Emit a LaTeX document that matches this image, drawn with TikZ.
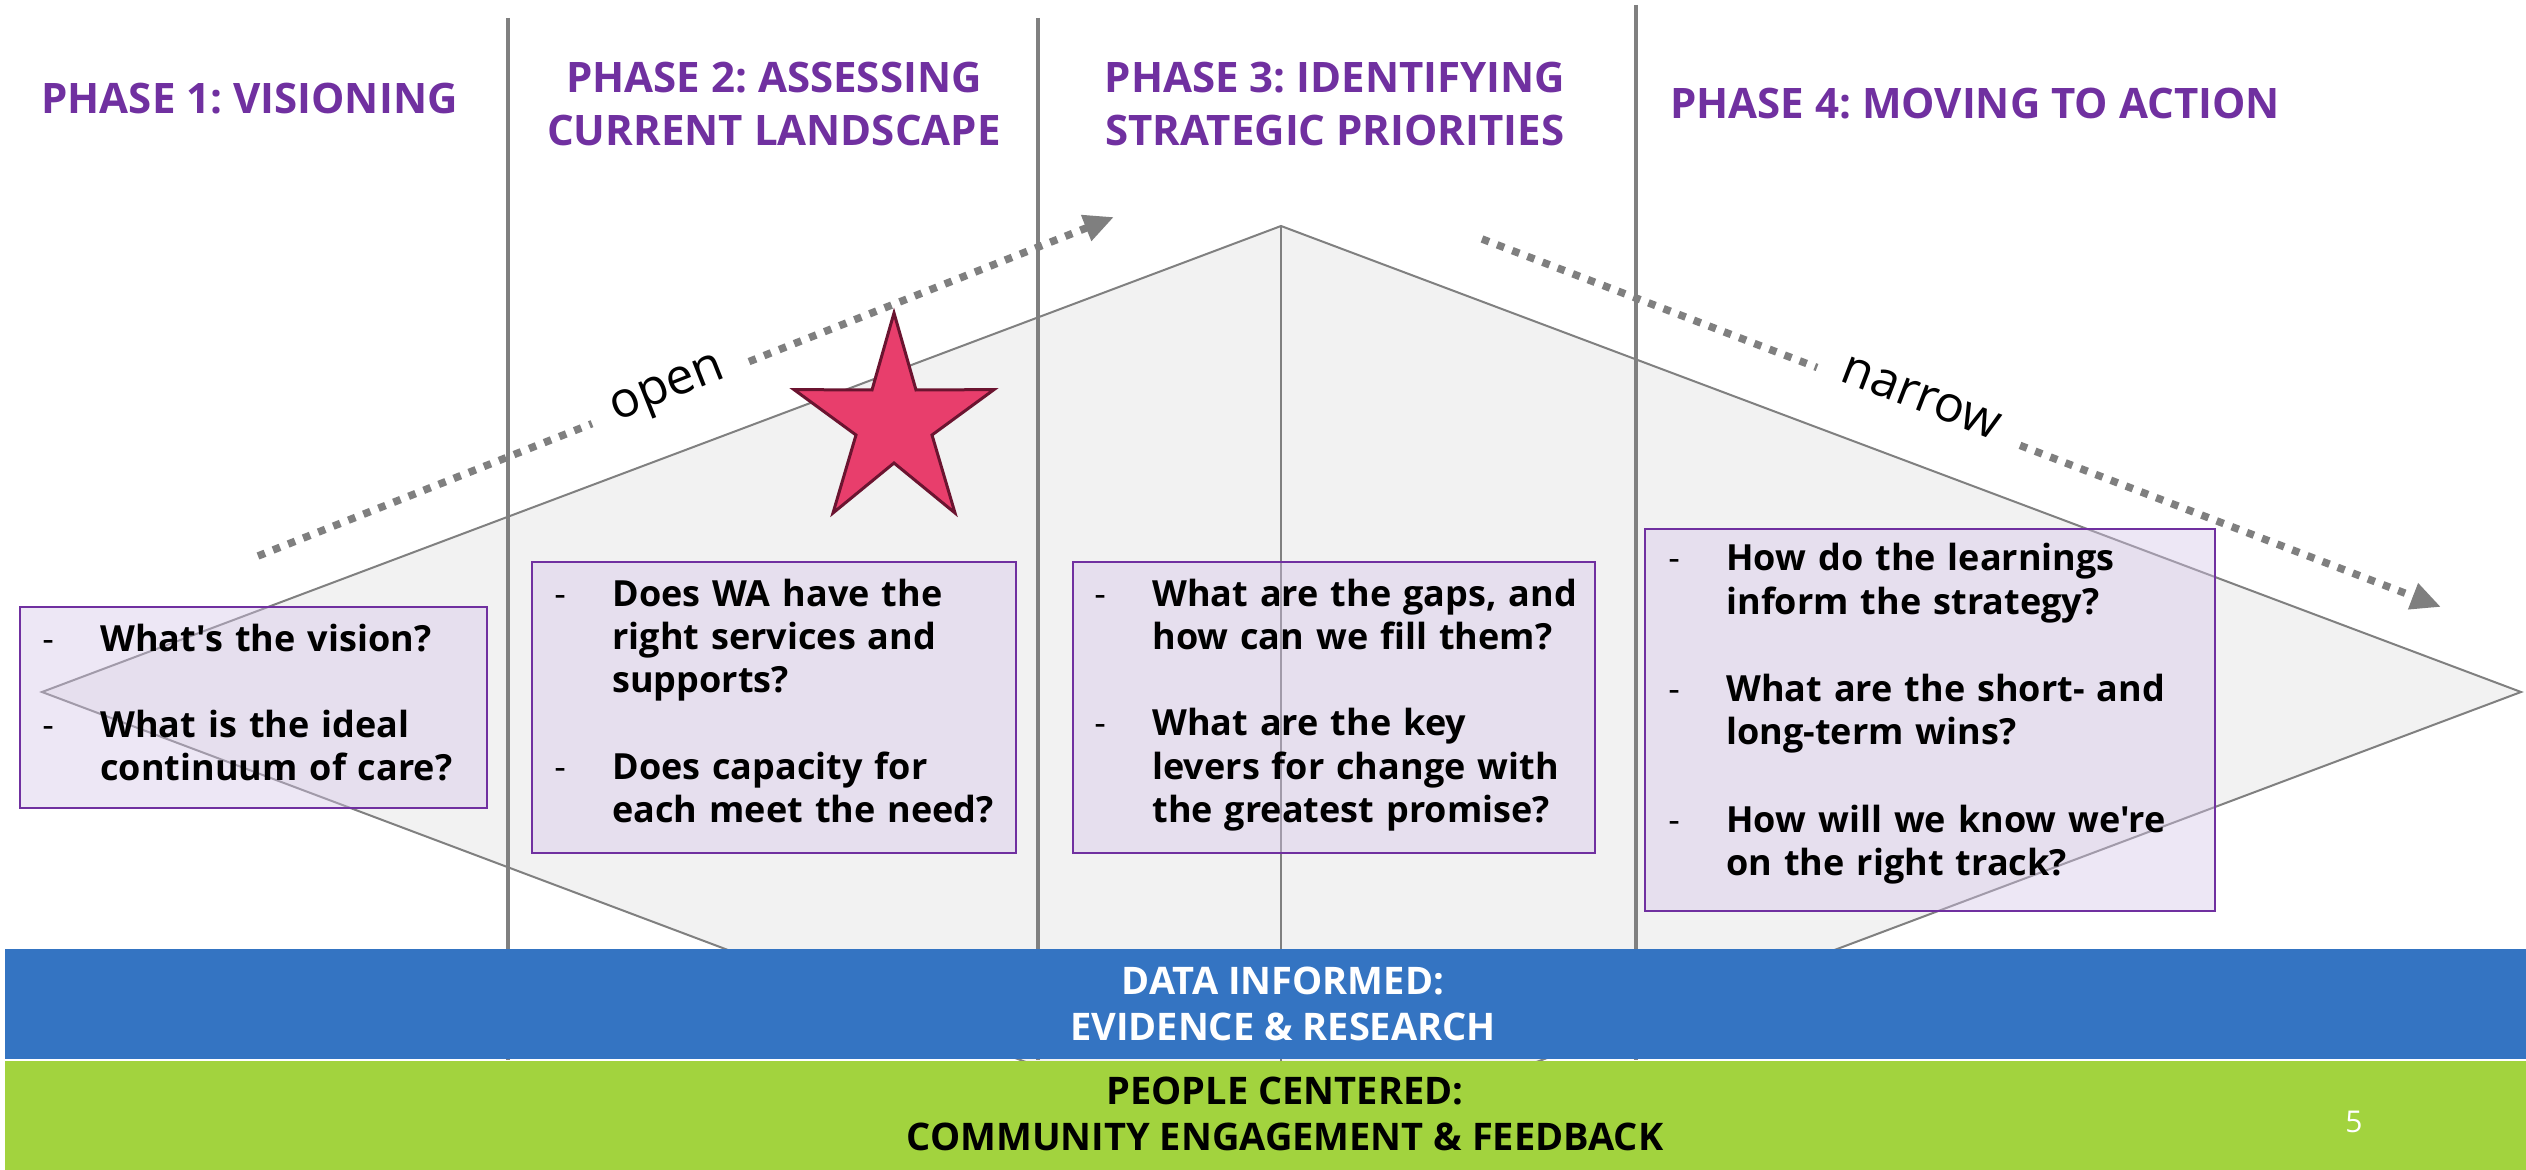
\documentclass[tikz,border=0pt]{standalone}
\usepackage{fontspec}
\setmainfont{Open Sans}[Ligatures=TeXOff]
\usetikzlibrary{arrows.meta,fit}
\definecolor{ppurple}{HTML}{7030A0}
\definecolor{lgray}{HTML}{F2F2F2}
\definecolor{mgray}{HTML}{808080}
\definecolor{boxfill}{HTML}{D4C3E8}
\definecolor{bandblue}{HTML}{3474C2}
\definecolor{bandgreen}{HTML}{A2D33E}
\definecolor{starfill}{HTML}{E83E6C}
\definecolor{stardraw}{HTML}{6B1430}
\definecolor{arrowgray}{HTML}{7F7F7F}
\newcommand\bul{\leavevmode\llap{\makebox[29pt][l]{\mdseries -}}}
\frenchspacing
\begin{document}
\begin{tikzpicture}[x=0.5pt,y=-0.5pt,
  title/.style={text=ppurple,font=\fontsize{21}{26.5}\selectfont\bfseries,align=center,inner sep=0},
  qbox/.style={draw=ppurple,line width=1pt,fill=boxfill,fill opacity=0.4,inner sep=0},
  qtext/.style={font=\fontsize{18}{21.65}\selectfont\bfseries,text width=300pt,align=left,inner sep=0,anchor=base west},
  vline/.style={draw=mgray,line width=1.65pt},
  diam/.style={draw=mgray,line width=1pt,fill=lgray},
  dotline/.style={draw=arrowgray,line width=3.75pt,dash pattern=on 3.75pt off 4.35pt},
  dottip/.style={-{Triangle[length=15pt,width=13pt]}},
  flowlabel/.style={font=\fontsize{25}{30}\selectfont,inner sep=0},
  band/.style={inner sep=0,draw=none},
  bandtext/.style={font=\fontsize{19}{23}\selectfont\bfseries,align=center,inner sep=0,anchor=base},
  starst/.style={fill=starfill,draw=stardraw,line width=1.5pt,line join=miter}
]
\useasboundingbox (0,0) rectangle (2526,1170);
\fill[white] (0,0) rectangle (2526,1170);
% diamond
\coordinate (dl) at (42,692);
\coordinate (dt) at (1281,226);
\coordinate (dr) at (2521,692);
\coordinate (db) at (1281,1158);
\path[diam] (dl) -- (dt) -- (dr) -- (db) -- cycle;
\draw[draw=mgray,line width=1pt] (dt) -- (db);
% phase separators
\coordinate (v1t) at (508,18);  \coordinate (v1b) at (508,1060);
\coordinate (v2t) at (1038,18); \coordinate (v2b) at (1038,1060);
\coordinate (v3t) at (1636,5);  \coordinate (v3b) at (1636,1060);
\draw[vline] (v1t) -- (v1b);
\draw[vline] (v2t) -- (v2b);
\draw[vline] (v3t) -- (v3b);
% titles (base = last line)
\node[title,anchor=base] (p1) at (249.5,114) {PHASE 1: VISIONING};
\node[title,anchor=base] (p2) at (774,146) {PHASE 2: ASSESSING\\CURRENT LANDSCAPE};
\node[title,anchor=base] (p3) at (1335,146) {PHASE 3: IDENTIFYING\\STRATEGIC PRIORITIES};
\node[title,anchor=base] (p4) at (1975,119) {PHASE 4: MOVING TO ACTION};
% open arrow
\coordinate (oa) at (258,556);
\coordinate (ob) at (592,423.7);
\coordinate (oc) at (749,361.6);
\coordinate (od) at (1114,217);
\draw[dotline] (oa) -- (ob);
\draw[dotline,dottip] (oc) -- (od);
\node[flowlabel,rotate=21.6] (open) at (669,392) {open};
% narrow arrow
\coordinate (na) at (1482,239);
\coordinate (nb) at (1817,367.5);
\coordinate (nc) at (2020,445.4);
\coordinate (nd) at (2441,607);
\draw[dotline] (na) -- (nb);
\draw[dotline,dottip] (nc) -- (nd);
\node[flowlabel,rotate=-21] (narrow) at (1921,398) {narrow};
% star
\draw[starst,shift={(894,423.6)}] (0,-110.6) -- (22,-33.6) -- (100,-34) -- (38,11.4) -- (61,89.4) -- (0,39.4) -- (-61,89.4) -- (-38,11.4) -- (-100,-34) -- (-22,-33.6) -- cycle;
% question boxes
\coordinate (b1nw) at (20,607);   \coordinate (b1se) at (487,808);
\coordinate (b2nw) at (532,562);  \coordinate (b2se) at (1016,853);
\coordinate (b3nw) at (1073,562); \coordinate (b3se) at (1595,853);
\coordinate (b4nw) at (1645,529); \coordinate (b4se) at (2215,911);
\node[qbox,fit=(b1nw)(b1se)] (b1) {};
\node[qbox,fit=(b2nw)(b2se)] (b2) {};
\node[qbox,fit=(b3nw)(b3se)] (b3) {};
\node[qbox,fit=(b4nw)(b4se)] (b4) {};
\node[qtext] (t1) at (100,651) {\bul What's the vision?\\[21.65pt]\bul What is the ideal\\continuum of care?};
\node[qtext] (t2) at (612,606) {\bul Does WA have the\\right services and\\supports?\\[21.65pt]\bul Does capacity for\\each meet the need?};
\node[qtext] (t3) at (1152,606) {\bul What are the gaps, and\\how can we fill them?\\[21.65pt]\bul What are the key\\levers for change with\\the greatest promise?};
\node[qtext] (t4) at (1726,571) {\bul How do the learnings\\inform the strategy?\\[22pt]\bul What are the short- and\\long-term wins?\\[22pt]\bul How will we know we're\\on the right track?};
% bands
\coordinate (bbnw) at (5,949);  \coordinate (bbse) at (2526,1059);
\coordinate (bgnw) at (5,1061); \coordinate (bgse) at (2526,1170);
\node[band,fill=bandblue,fit=(bbnw)(bbse)] (bandb) {};
\node[band,fill=bandgreen,fit=(bgnw)(bgse)] (bandg) {};
\node[bandtext,text=white] (bbt) at (1283,1040) {DATA INFORMED:\\EVIDENCE \& RESEARCH};
\node[bandtext,text=black] (bgt) at (1285,1150) {PEOPLE CENTERED:\\COMMUNITY ENGAGEMENT \& FEEDBACK};
\node[text=white,font=\fontsize{15}{18}\selectfont,inner sep=0] (pg) at (2354,1122) {5};
\end{tikzpicture}
\end{document}
